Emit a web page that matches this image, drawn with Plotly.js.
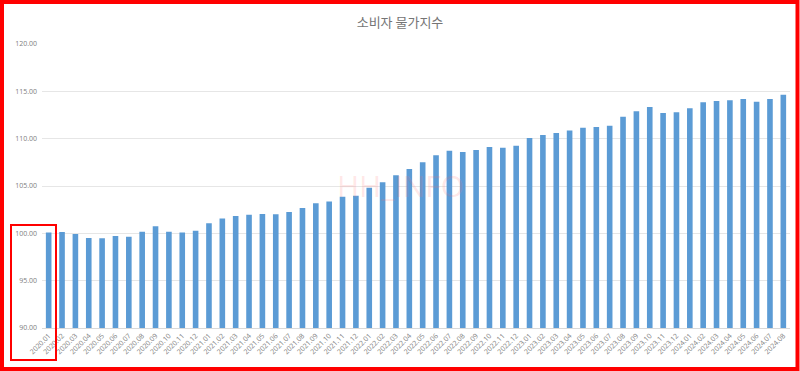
<!DOCTYPE html>
<html>
<head>
<meta charset="utf-8">
<script src="https://cdn.plot.ly/plotly-3.0.1.min.js"></script>
<style>
html,body{margin:0;padding:0;background:#fff;}
#chart{width:800px;height:371px;}
</style>
</head>
<body>
<div id="chart"></div>
<script>
const months = [
 "2020.01","2020.02","2020.03","2020.04","2020.05","2020.06","2020.07","2020.08","2020.09","2020.10","2020.11","2020.12",
 "2021.01","2021.02","2021.03","2021.04","2021.05","2021.06","2021.07","2021.08","2021.09","2021.10","2021.11","2021.12",
 "2022.01","2022.02","2022.03","2022.04","2022.05","2022.06","2022.07","2022.08","2022.09","2022.10","2022.11","2022.12",
 "2023.01","2023.02","2023.03","2023.04","2023.05","2023.06","2023.07","2023.08","2023.09","2023.10","2023.11","2023.12",
 "2024.01","2024.02","2024.03","2024.04","2024.05","2024.06","2024.07","2024.08"
];
const cpi = [
 100.09,100.14,99.93,99.51,99.47,99.72,99.65,100.18,100.74,100.18,100.10,100.28,
 101.06,101.58,101.83,101.97,102.04,102.02,102.25,102.68,103.17,103.35,103.87,103.98,
 104.82,105.39,106.13,106.80,107.50,108.24,108.73,108.59,108.80,109.12,109.05,109.26,
 110.07,110.39,110.60,110.85,111.16,111.23,111.37,112.32,112.89,113.35,112.71,112.78,
 113.20,113.84,113.98,114.05,114.19,113.91,114.19,114.65
];
const yTicks = [90,95,100,105,110,115,120];
const yTickText = yTicks.map(v => v.toFixed(2));
const chartTitle = "소비자 물가지수";
const watermark = "HH_INFO";

// pixel -> paper helpers (plot area: x 42..790, y 44..328)
const L = 42, R = 790, T = 44, B = 328;
const px = x => (x - L) / (R - L);
const py = y => (B - y) / (B - T);

const trace = {
  type: 'bar',
  x: months,
  y: cpi,
  marker: {color: '#5B9BD5'},
  hoverinfo: 'x+y'
};

const layout = {
  width: 800, height: 371,
  margin: {l: L, r: 800 - R, t: T, b: 371 - B},
  paper_bgcolor: '#fff', plot_bgcolor: '#fff',
  bargap: 0.58,
  showlegend: false,
  title: {
    text: chartTitle,
    font: {family: '"Noto Sans CJK KR", sans-serif', size: 13, color: '#757575'},
    x: 0.5, xanchor: 'center', y: 1 - 22/371, yanchor: 'middle'
  },
  xaxis: {
    type: 'category',
    tickangle: -45,
    tickfont: {family: '"Open Sans", sans-serif', size: 7, color: '#808080'},
    showgrid: false,
    showline: true, linecolor: '#D9D9D9', linewidth: 1,
    ticks: '', automargin: false
  },
  yaxis: {
    range: [90, 120],
    tickvals: yTicks, ticktext: yTickText,
    tickfont: {family: '"Open Sans", sans-serif', size: 7, color: '#808080'},
    ticklabelstandoff: 4,
    showgrid: true, gridcolor: '#E6E6E6', gridwidth: 1,
    zeroline: false, showline: false, ticks: '', automargin: false
  },
  annotations: [{
    xref: 'paper', yref: 'paper', x: px(400), y: py(185),
    text: watermark, showarrow: false,
    font: {family: '"Open Sans", sans-serif', size: 30, color: 'rgba(255,110,110,0.18)'},
    xanchor: 'center', yanchor: 'middle'
  }],
  shapes: [
    {type: 'rect', xref: 'paper', yref: 'paper', x0: px(2), x1: px(797.5), y0: py(2), y1: py(369),
     line: {color: '#FF0000', width: 4}, fillcolor: 'rgba(0,0,0,0)'},
    {type: 'rect', xref: 'paper', yref: 'paper', x0: px(11), x1: px(56), y0: py(225), y1: py(360),
     line: {color: '#FF0000', width: 2}, fillcolor: 'rgba(0,0,0,0)'}
  ]
};

Plotly.newPlot('chart', [trace], layout, {displayModeBar: false, staticPlot: true});
</script>
</body>
</html>
